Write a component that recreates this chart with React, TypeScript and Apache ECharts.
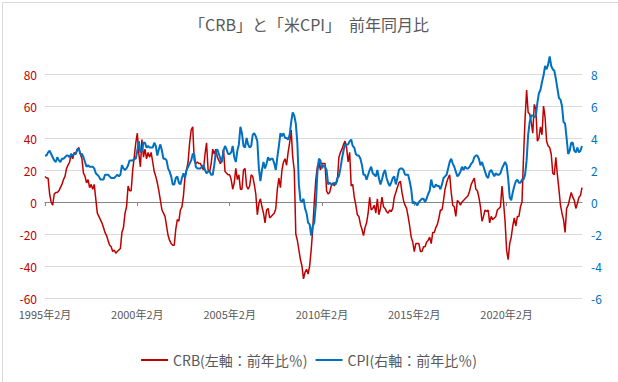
import React, { useEffect, useRef } from "react";
import * as echarts from "echarts";

// Monthly, 1995-02 .. 2024-03
const START_YEAR = 1995;
const START_MONTH = 2;

// CRB index, YoY % (left axis)
const crb: number[] = [
  // 1995 Feb-Dec
  16, 15, 15, 5, 0, -2, 5, 6, 6, 7, 9,
  // 1996
  11, 14, 16, 21, 23, 25, 30, 27, 31, 30, 33, 34,
  // 1997
  30, 27, 18, 16, 12, 14, 9, 11, 8, 11, 2, -7,
  // 1998
  -9, -11, -13, -16, -19, -21, -24, -27, -28, -31, -30, -32,
  // 1999
  -31, -30, -29, -19, -16, -7, -3, 10, 7, 7, 20, 28,
  // 2000
  37, 43, 30, 22, 39, 28, 33, 27, 31, 28, 31, 25,
  // 2001
  19, 16, 12, 7, 1, -5, -7, -9, -15, -21, -24, -26,
  // 2002
  -27, -27, -17, -11, -12, -5, -3, 4, 16, 20, 25, 37,
  // 2003
  45, 47, 26, 24, 25, 24, 24, 22, 20, 30, 37, 20,
  // 2004
  19, 24, 33, 30, 33, 28, 26, 24, 26, 33, 19, 18,
  // 2005
  17, 17, 14, 8, 12, 21, 14, 17, 8, 8, 20, 21,
  // 2006
  10, 8, 10, 17, 16, 11, 5, -8, -1, 2, -3, -7,
  // 2007
  -13, -5, -4, -10, -9, -8, -7, -4, 8, 15, 9, 20,
  // 2008
  25, 27, 23, 31, 37, 45, 28, 20, -20, -24, -30, -36,
  // 2009
  -40, -48, -44, -42, -45, -40, -30, -17, 0, 14, 22, 25,
  // 2010
  20, 24, 24, 24, 7, 5, 6, 10, 12, 10, 12, 13,
  // 2011
  28, 31, 33, 36, 38, 34, 25, 31, 10, 11, 3, -2,
  // 2012
  -8, -9, -14, -17, -21, -16, -13, -7, 3, -5, -4, -2,
  // 2013
  -7, 2, -8, -4, 3, -3, -4, -6, -7, -5, -6, -4,
  // 2014
  3, 6, 9, 12, 13, 6, 1, -2, -4, -9, -15, -22,
  // 2015
  -25, -31, -26, -26, -26, -31, -31, -28, -28, -25, -24, -22,
  // 2016
  -26, -19, -19, -16, -14, -10, -5, -5, 1, 8, 12, 15,
  // 2017
  17, 6, -2, -3, -9, 1, 0, -2, 0, 1, 2, 3,
  // 2018
  4, 7, 11, 13, 15, 8, 7, 3, -3, -12, -9, -5,
  // 2019
  -6, -5, -13, -9, -11, -10, -9, -5, -4, -3, 10, 0,
  // 2020
  -12, -30, -36, -26, -22, -15, -10, -15, -9, -9, -3, 0,
  // 2021
  28, 52, 70, 56, 55, 50, 43, 61, 58, 38, 40, 47,
  // 2022
  42, 60, 53, 38, 35, 34, 30, 18, 17, 28, 17, 8,
  // 2023
  -2, -7, -11, -19, -4, -2, 2, 6, 3, 1, -4, -1,
  // 2024 Jan-Mar
  3, 4, 9,
];

// US CPI, YoY % (right axis)
const cpi: number[] = [
  // 1995 Feb-Dec
  2.9, 2.9, 3.1, 3.2, 3.0, 2.8, 2.6, 2.5, 2.8, 2.6, 2.5,
  // 1996
  2.7, 2.7, 2.8, 2.9, 2.9, 2.8, 3.0, 2.9, 3.0, 3.0, 3.3, 3.3,
  // 1997
  3.0, 3.0, 2.8, 2.5, 2.2, 2.3, 2.2, 2.2, 2.2, 2.1, 1.8, 1.7,
  // 1998
  1.6, 1.4, 1.4, 1.4, 1.7, 1.7, 1.7, 1.6, 1.5, 1.5, 1.5, 1.6,
  // 1999
  1.7, 1.6, 1.7, 2.3, 2.1, 2.0, 2.1, 2.3, 2.6, 2.6, 2.6, 2.7,
  // 2000
  2.7, 3.2, 3.8, 3.1, 3.2, 3.7, 3.7, 3.4, 3.5, 3.4, 3.4, 3.4,
  // 2001
  3.7, 3.5, 2.9, 3.3, 3.6, 3.2, 2.7, 2.7, 2.6, 2.1, 1.9, 1.6,
  // 2002
  1.1, 1.1, 1.5, 1.6, 1.2, 1.1, 1.5, 1.8, 1.5, 2.0, 2.2, 2.4,
  // 2003
  2.6, 3.0, 3.0, 2.2, 2.1, 2.1, 2.1, 2.2, 2.3, 2.0, 1.8, 1.9,
  // 2004
  1.9, 1.7, 1.7, 2.3, 3.1, 3.3, 3.0, 2.7, 2.5, 3.2, 3.5, 3.3,
  // 2005
  3.0, 3.0, 3.1, 3.5, 2.8, 2.5, 3.2, 3.6, 4.7, 4.3, 3.5, 3.4,
  // 2006
  4.0, 3.6, 3.4, 3.5, 4.2, 4.3, 4.1, 3.8, 2.1, 1.3, 2.0, 2.5,
  // 2007
  2.1, 2.4, 2.8, 2.6, 2.7, 2.7, 2.4, 2.0, 2.8, 3.5, 4.3, 4.1,
  // 2008
  4.3, 4.0, 4.0, 3.9, 4.2, 5.0, 5.6, 5.4, 4.9, 3.7, 1.1, 0.1,
  // 2009
  0.0, 0.2, -0.4, -0.7, -1.3, -1.4, -2.1, -1.5, -1.3, -0.2, 1.8, 2.7,
  // 2010
  2.6, 2.1, 2.3, 2.2, 2.0, 1.1, 1.2, 1.1, 1.1, 1.2, 1.1, 1.5,
  // 2011
  1.6, 2.1, 2.7, 3.2, 3.6, 3.6, 3.6, 3.8, 3.9, 3.5, 3.4, 3.0,
  // 2012
  2.9, 2.9, 2.7, 2.3, 1.7, 1.7, 1.4, 1.7, 2.0, 2.2, 1.8, 1.7,
  // 2013
  1.6, 2.0, 1.5, 1.1, 1.4, 1.8, 2.0, 1.5, 1.2, 1.0, 1.2, 1.5,
  // 2014
  1.6, 1.1, 1.5, 2.0, 2.1, 2.1, 2.0, 1.7, 1.7, 1.7, 1.3, 0.8,
  // 2015
  -0.1, 0.0, -0.1, -0.2, 0.0, 0.1, 0.2, 0.2, 0.0, 0.2, 0.5, 0.7,
  // 2016
  1.4, 1.0, 0.9, 1.1, 1.0, 1.0, 0.8, 1.1, 1.5, 1.6, 1.7, 2.1,
  // 2017
  2.5, 2.7, 2.4, 2.2, 1.9, 1.6, 1.7, 1.9, 2.2, 2.0, 2.2, 2.1,
  // 2018
  2.1, 2.2, 2.4, 2.5, 2.8, 2.9, 2.9, 2.7, 2.3, 2.5, 2.2, 1.9,
  // 2019
  1.6, 1.5, 1.9, 2.0, 1.8, 1.6, 1.8, 1.7, 1.7, 1.8, 2.1, 2.3,
  // 2020
  2.5, 2.3, 1.5, 0.3, 0.1, 0.6, 1.0, 1.3, 1.4, 1.2, 1.2, 1.4,
  // 2021
  1.4, 1.7, 2.6, 4.2, 5.0, 5.4, 5.4, 5.3, 5.4, 6.2, 6.8, 7.0,
  // 2022
  7.5, 7.9, 8.5, 8.3, 8.6, 9.1, 8.5, 8.3, 8.2, 7.7, 7.1, 6.5,
  // 2023
  6.4, 6.0, 5.0, 4.9, 4.0, 3.0, 3.2, 3.7, 3.7, 3.2, 3.1, 3.4,
  // 2024 Jan-Mar
  3.1, 3.2, 3.5,
];

const SERIES_NAMES = ["CRB(左軸：前年比％)", "CPI(右軸：前年比％)"];
const TITLE = "「CRB」と「米CPI」　前年同月比";
const LEFT_AXIS = { min: -60, max: 80, interval: 20 };
const RIGHT_AXIS = { min: -6, max: 8, interval: 2 };
const LABEL_EVERY = 60; // months between x labels

const categories: string[] = crb.map((_, i) => {
  const m0 = START_MONTH - 1 + i;
  const y = START_YEAR + Math.floor(m0 / 12);
  const m = (m0 % 12) + 1;
  return `${y}年${m}月`;
});

const FONT = '"Noto Sans CJK JP", "Noto Sans", sans-serif';
const RED = "#C00000";
const BLUE = "#0070C0";
const GREY_TEXT = "#595959";

export default function App() {
  const ref = useRef<HTMLDivElement>(null);
  useEffect(() => {
    if (!ref.current) return;
    const chart = echarts.init(ref.current, undefined, { renderer: "svg" });
    chart.setOption({
      animation: false,
      backgroundColor: "#ffffff",
      textStyle: { fontFamily: FONT },
      title: {
        text: TITLE,
        left: "center",
        top: 11,
        textStyle: { fontSize: 16, fontWeight: "normal", color: GREY_TEXT, fontFamily: FONT },
      },
      legend: {
        data: SERIES_NAMES,
        left: "center",
        top: 346,
        icon: "rect",
        itemWidth: 27,
        itemHeight: 2,
        itemGap: 8,
        textStyle: { fontSize: 14, color: GREY_TEXT, fontFamily: FONT, lineHeight: 18 },
      },
      grid: { left: 45, right: 36, top: 74, bottom: 84, containLabel: false },
      xAxis: [
        {
          type: "category",
          data: categories,
          boundaryGap: false,
          position: "bottom",
          axisLine: { show: true, onZero: true, onZeroAxisIndex: 0, lineStyle: { color: "#868686", width: 1 } },
          axisTick: { show: true, interval: LABEL_EVERY - 1, length: 4, lineStyle: { color: "#868686" } },
          axisLabel: { show: false },
          splitLine: { show: false },
        },
        {
          type: "category",
          data: categories,
          boundaryGap: false,
          position: "bottom",
          axisLine: { show: false, onZero: false },
          axisTick: { show: false },
          axisLabel: { interval: LABEL_EVERY - 1, fontSize: 11, color: GREY_TEXT, margin: 9, lineHeight: 13, fontFamily: FONT },
          splitLine: { show: false },
        },
      ],
      yAxis: [
        {
          type: "value",
          position: "left",
          ...LEFT_AXIS,
          axisLine: { show: false },
          axisTick: { show: false },
          axisLabel: { color: RED, fontSize: 12, margin: 8, lineHeight: 13, fontFamily: FONT },
          splitLine: { show: true, lineStyle: { color: "#d9d9d9", width: 1 } },
        },
        {
          type: "value",
          position: "right",
          ...RIGHT_AXIS,
          axisLine: { show: false },
          axisTick: { show: false },
          axisLabel: { color: BLUE, fontSize: 12, margin: 9, lineHeight: 13, fontFamily: FONT },
          splitLine: { show: false },
        },
      ],
      series: [
        {
          name: SERIES_NAMES[0],
          type: "line",
          data: crb,
          xAxisIndex: 0,
          yAxisIndex: 0,
          symbol: "none",
          clip: false,
          lineStyle: { color: RED, width: 1.5 },
          itemStyle: { color: RED },
        },
        {
          name: SERIES_NAMES[1],
          type: "line",
          data: cpi,
          xAxisIndex: 0,
          yAxisIndex: 1,
          symbol: "none",
          clip: false,
          lineStyle: { color: BLUE, width: 2 },
          itemStyle: { color: BLUE },
        },
      ],
      graphic: [
        {
          type: "rect",
          left: 0,
          top: 0,
          shape: { x: 0.5, y: 0.5, width: 617, height: 381 },
          style: { fill: "none", stroke: "#d9d9d9", lineWidth: 1 },
          silent: true,
          z: -1,
        },
      ],
    });
    return () => chart.dispose();
  }, []);
  return (
    <div
      ref={ref}
      style={{ position: "absolute", left: 0, top: 0, width: 618, height: 382 }}
    />
  );
}
